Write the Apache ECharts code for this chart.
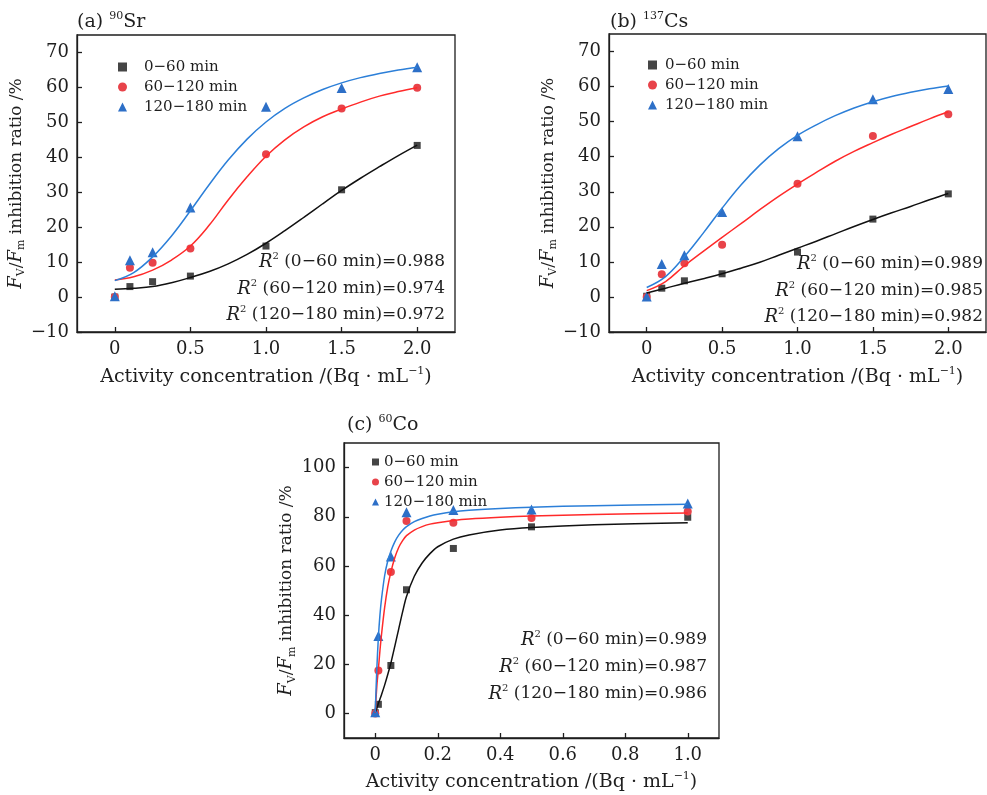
<!DOCTYPE html>
<html>
<head>
<meta charset="utf-8">
<script src="https://cdn.jsdelivr.net/npm/echarts@6/dist/echarts.min.js"></script>
<style>
  html, body { margin: 0; padding: 0; background: #fff; }
  #chart { width: 987px; height: 795px; }
</style>
</head>
<body>
<div id="chart"></div>
<script>
// measured points
const xAB = [0, 0.1, 0.25, 0.5, 1.0, 1.5, 2.0];
const xC = [0, 0.01, 0.05, 0.1, 0.25, 0.5, 1.0];

const srLow = [0, 3.0, 4.4, 6.0, 14.6, 30.7, 43.4];
const srMid = [0, 8.4, 9.8, 13.9, 40.9, 54.0, 59.9];
const srHigh = [0.2, 10.5, 12.8, 25.6, 54.5, 59.8, 65.8];

const csLow = [0.2, 2.5, 4.6, 6.6, 12.8, 22.2, 29.4];
const csMid = [0, 6.5, 9.6, 14.9, 32.3, 45.9, 52.1];
const csHigh = [0.1, 9.4, 11.9, 24.2, 45.8, 56.4, 59.3];

const coLow = [0.3, 3.7, 19.5, 50.3, 67.1, 75.9, 79.8];
const coMid = [0, 17.5, 57.5, 78.3, 77.6, 79.5, 82.1];
const coHigh = [0.5, 31.5, 63.8, 81.8, 82.7, 83.0, 85.4];

// fitted curves
const fitXAB = [0, 0.125, 0.25, 0.375, 0.5, 0.625, 0.75, 0.875, 1.0, 1.125, 1.25, 1.375, 1.5, 1.625, 1.75, 1.875, 2.0];
const srLowFit = [2.2, 2.5, 3.0, 4.1, 5.6, 7.3, 9.5, 12.2, 15.4, 19.0, 22.8, 26.7, 30.5, 34.0, 37.3, 40.5, 43.5];
const srMidFit = [4.9, 5.8, 7.7, 10.6, 14.6, 20.6, 27.8, 34.4, 40.3, 45.0, 48.7, 51.6, 53.8, 55.8, 57.5, 58.8, 59.9];
const srHighFit = [4.7, 7.0, 11.5, 17.5, 24.7, 32.2, 39.2, 45.2, 50.1, 54.0, 57.0, 59.4, 61.3, 62.8, 64.0, 65.0, 65.8];

const csLowFit = [1.1, 2.5, 3.9, 5.2, 6.6, 8.2, 9.9, 11.9, 13.9, 15.9, 18.0, 20.1, 22.1, 24.0, 25.8, 27.7, 29.5];
const csMidFit = [1.8, 4.4, 8.9, 13.0, 17.0, 20.9, 24.9, 28.7, 32.2, 35.5, 38.7, 41.5, 44.0, 46.4, 48.6, 50.8, 52.8];
const csHighFit = [2.7, 5.8, 11.5, 18.2, 25.3, 31.9, 37.6, 42.3, 46.1, 49.1, 51.7, 53.9, 55.7, 57.2, 58.4, 59.4, 60.2];

const fitXC = [0, 0.005, 0.01, 0.015, 0.02, 0.03, 0.04, 0.05, 0.0625, 0.075, 0.0875, 0.1, 0.125, 0.15, 0.175, 0.2, 0.25, 0.3, 0.4, 0.5, 0.7, 1.0];
const coLowFit = [0.5, 2.0, 4.0, 5.8, 7.6, 11.5, 15.8, 20.5, 27.3, 34.3, 41.3, 47.6, 55.8, 61.2, 65.0, 67.8, 70.9, 72.6, 74.6, 75.6, 76.7, 77.6];
const coMidFit = [0.3, 11.0, 18.0, 25.5, 32.0, 43.0, 51.5, 57.5, 63.3, 67.5, 70.3, 72.3, 74.6, 76.0, 77.0, 77.6, 78.5, 79.1, 79.8, 80.3, 80.9, 81.5];
const coHighFit = [0.5, 18.0, 31.0, 40.0, 46.5, 56.0, 62.0, 66.0, 69.8, 72.5, 74.5, 76.0, 78.0, 79.3, 80.3, 81.0, 82.0, 82.6, 83.4, 83.9, 84.5, 85.1];

const seriesNames = ['0\u221260 min', '60\u2212120 min', '120\u2212180 min'];
const xTicksAB = [0, 0.5, 1.0, 1.5, 2.0];
const yTicksAB = [-10, 0, 10, 20, 30, 40, 50, 60, 70];
const xTicksC = [0, 0.2, 0.4, 0.6, 0.8, 1.0];
const yTicksC = [0, 20, 40, 60, 80, 100];
const r2Sr = ['0.988', '0.974', '0.972'];
const r2Cs = ['0.989', '0.985', '0.982'];
const r2Co = ['0.989', '0.987', '0.986'];

const FONT = 'DejaVu Serif';
const INK = '#1e1e1e';
const ptColors = ['#454545', '#e8434a', '#2d6fc7'];
const lineColors = ['#111111', '#ff2a2a', '#2c7fd8'];
const symbols = ['rect', 'circle', 'triangle'];

const chart = echarts.init(document.getElementById('chart'));

const grids = [
	{left: 77, top: 35, width: 378, height: 297},
	{left: 609, top: 34, width: 377, height: 298},
	{left: 344, top: 443, width: 375, height: 295},
].map(g => ({...g, show: true, borderColor: INK, borderWidth: 1.3, backgroundColor: 'transparent'}));

const xName = {
	text: '{n|Activity concentration /(Bq \u00b7 mL}{sup|\u22121}{n|)}',
	rich: {
		n: {fontFamily: FONT, fontSize: 19, color: INK, lineHeight: 22},
		sup: {fontFamily: FONT, fontSize: 11, color: INK, verticalAlign: 'top', lineHeight: 11},
	},
};
const yName = {
	text: '{i|F}{sub|V}{n|/}{i|F}{sub|m}{n| inhibition ratio /%}',
	rich: {
		n: {fontFamily: FONT, fontSize: 17, color: INK, lineHeight: 22},
		i: {fontFamily: FONT, fontSize: 18, fontStyle: 'italic', color: INK, lineHeight: 22},
		sub: {fontFamily: FONT, fontSize: 11, color: INK, verticalAlign: 'bottom', lineHeight: 11},
	},
};

function fmtNum(v) {
	if (v < 0) return '\u2212' + Math.abs(v);
	return String(v);
}

function xAxis(gi, min, max, ticks, gap) {
	return {
		type: 'value', gridIndex: gi, min, max,
		name: xName.text, nameLocation: 'middle', nameGap: gap,
		nameTextStyle: {rich: xName.rich},
		axisLine: {show: true, onZero: false, lineStyle: {color: INK, width: 1.3}},
		axisTick: {show: true, inside: true, length: 5, customValues: ticks, lineStyle: {color: INK, width: 1.3}},
		axisLabel: {
			customValues: ticks, margin: 8, fontFamily: FONT, fontSize: 18, color: INK,
			formatter: v => (v === 0 ? '0' : Number(v).toFixed(1)),
		},
		splitLine: {show: false},
	};
}

function yAxis(gi, min, max, ticks, gap) {
	return {
		type: 'value', gridIndex: gi, min, max,
		name: yName.text, nameLocation: 'middle', nameGap: gap,
		nameTextStyle: {rich: yName.rich},
		axisLine: {show: true, onZero: false, lineStyle: {color: INK, width: 1.3}},
		axisTick: {show: true, inside: true, length: 5, customValues: ticks, lineStyle: {color: INK, width: 1.3}},
		axisLabel: {customValues: ticks, margin: 8, fontFamily: FONT, fontSize: 18, color: INK, formatter: fmtNum},
		splitLine: {show: false},
	};
}

function pts(xs, ys) {
	return xs.map((x, i) => [x, ys[i]]);
}

const symSize = [7, 8, 10];

function panelSeries(gi, xs, groups, fitXs, fits, smooth) {
	const out = [];
	groups.forEach((ys, k) => {
		out.push({
			type: 'scatter', name: seriesNames[k], xAxisIndex: gi, yAxisIndex: gi,
			symbol: symbols[k], symbolSize: symSize[k],
			itemStyle: {color: ptColors[k], opacity: 1},
			data: pts(xs, ys), z: 2,
		});
	});
	fits.forEach((ys, k) => {
		out.push({
			type: 'line', xAxisIndex: gi, yAxisIndex: gi,
			symbol: 'none', showSymbol: false, smooth,
			lineStyle: {color: lineColors[k], width: 1.5},
			data: pts(fitXs, ys), z: 3, silent: true,
		});
	});
	return out;
}

function legend(left, top, size, pad) {
	return {
		orient: 'vertical', left, top, itemWidth: size, itemHeight: size, itemGap: 0,
		selectedMode: false,
		data: seriesNames.map((n, k) => ({name: n, icon: symbols[k]})),
		textStyle: {fontFamily: FONT, fontSize: 15, color: INK, lineHeight: 20, padding: [0, 0, 0, pad]},
	};
}

function r2Texts(right, ys, vals) {
	return vals.map((v, k) => ({
		type: 'text', x: right, y: ys[k],
		style: {
			text: '{i|R}{sup|2}{n| (' + seriesNames[k] + ')=' + v + '}',
			rich: {
				n: {fontFamily: FONT, fontSize: 17, fill: INK, lineHeight: 22},
				i: {fontFamily: FONT, fontSize: 18, fontStyle: 'italic', fill: INK, lineHeight: 22},
				sup: {fontFamily: FONT, fontSize: 10, fill: INK, verticalAlign: 'top', lineHeight: 10},
			},
			align: 'right', verticalAlign: 'middle',
		},
	}));
}

function panelTitle(x, y, tag, mass, el) {
	return {
		type: 'text', x, y,
		style: {
			text: '{n|(' + tag + ') }{sup|' + mass + '}{n|' + el + '}',
			rich: {
				n: {fontFamily: FONT, fontSize: 19, fill: INK, lineHeight: 22},
				sup: {fontFamily: FONT, fontSize: 11, fill: INK, verticalAlign: 'top', lineHeight: 11},
			},
			align: 'left', verticalAlign: 'middle',
		},
	};
}

chart.setOption({
	animation: false,
	backgroundColor: '#fff',
	grid: grids,
	xAxis: [
		xAxis(0, -0.25, 2.25, xTicksAB, 34),
		xAxis(1, -0.25, 2.25, xTicksAB, 34),
		xAxis(2, -0.1, 1.1, xTicksC, 33),
	],
	yAxis: [
		yAxis(0, -10, 75, yTicksAB, 40),
		yAxis(1, -10, 75, yTicksAB, 39),
		yAxis(2, -10, 110, yTicksC, 37),
	],
	legend: [
		legend(113, 52, 9, 12),
		legend(643, 50, 9, 3),
		legend(367, 447, 7, 0),
	],
	series: [
		...panelSeries(0, xAB, [srLow, srMid, srHigh], fitXAB, [srLowFit, srMidFit, srHighFit], 0.4),
		...panelSeries(1, xAB, [csLow, csMid, csHigh], fitXAB, [csLowFit, csMidFit, csHighFit], 0.4),
		...panelSeries(2, xC, [coLow, coMid, coHigh], fitXC, [coLowFit, coMidFit, coHighFit], 0.3),
	],
	graphic: [
		panelTitle(77, 22, 'a', '90', 'Sr'),
		panelTitle(610, 22, 'b', '137', 'Cs'),
		panelTitle(347, 425, 'c', '60', 'Co'),
		...r2Texts(445, [262, 289, 315], r2Sr),
		...r2Texts(983, [264, 291, 317], r2Cs),
		...r2Texts(707, [640, 667, 694], r2Co),
	],
});
</script>
</body>
</html>
